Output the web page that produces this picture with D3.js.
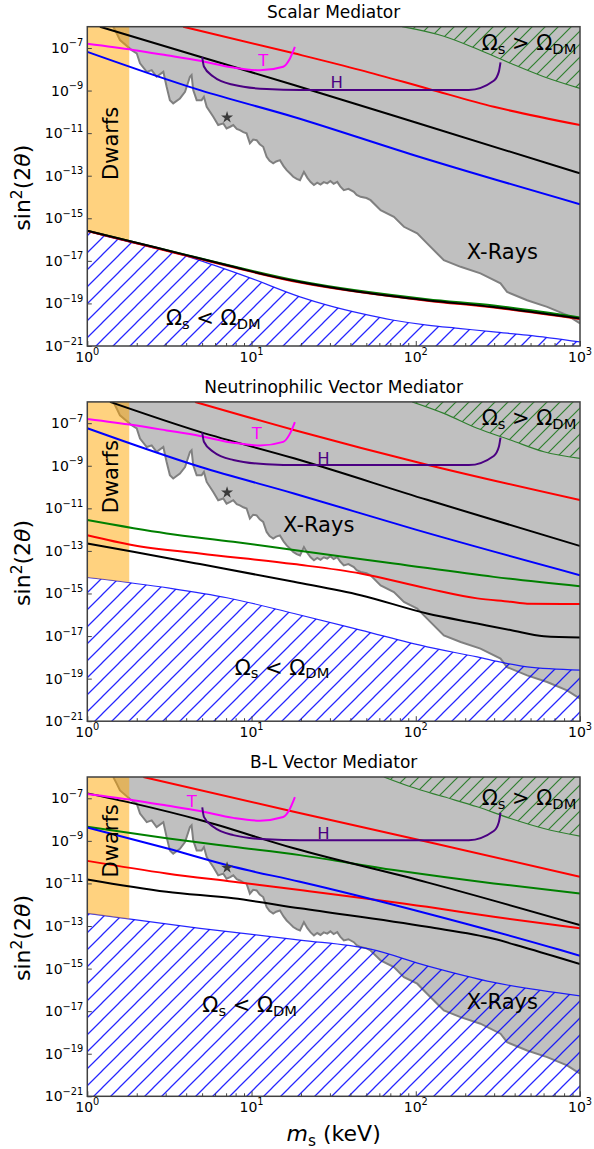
<!DOCTYPE html>
<html>
<head>
<meta charset="utf-8">
<script src="https://d3js.org/d3.v7.min.js"></script>
<style>
  body { margin: 0; background: #fff; }
  text { font-family: "DejaVu Sans", sans-serif; }
</style>
</head>
<body>
<div id="chart"></div>
<script>
// Data. Every point is [log10(m_s / keV), log10(sin^2(2 theta))]
// ==============================

// shared constraints (same in all three panels)
var xrayBound = [[0.158,-6.0],[0.179,-6.31],[0.199,-6.63],[0.270,-7.10],[0.301,-7.25],[0.321,-7.72],
  [0.362,-8.12],[0.392,-8.04],[0.422,-8.35],[0.463,-8.12],[0.483,-8.82],[0.503,-9.45],[0.523,-9.60],
  [0.564,-9.37],[0.595,-9.06],[0.625,-8.35],[0.635,-8.27],[0.645,-8.98],[0.666,-9.45],[0.696,-9.45],
  [0.710,-9.29],[0.727,-9.76],[0.767,-10.23],[0.797,-10.62],[0.828,-10.54],[0.848,-10.78],[0.870,-10.70],
  [0.889,-10.62],[0.910,-10.80],[0.929,-10.86],[0.950,-10.95],[0.970,-11.01],[0.990,-11.48],[1.010,-11.30],
  [1.031,-11.33],[1.050,-11.52],[1.071,-11.64],[1.092,-12.11],[1.110,-12.30],[1.132,-12.42],[1.150,-12.33],
  [1.173,-12.27],[1.195,-12.55],[1.214,-12.74],[1.235,-12.90],[1.254,-13.05],[1.275,-13.15],[1.295,-13.21],
  [1.319,-12.82],[1.340,-13.10],[1.360,-13.30],[1.380,-13.44],[1.400,-13.33],[1.420,-13.42],[1.440,-13.30],
  [1.461,-13.36],[1.480,-13.25],[1.500,-13.38],[1.522,-13.29],[1.540,-13.50],[1.562,-13.68],[1.590,-13.62],
  [1.623,-13.76],[1.640,-13.90],[1.664,-13.99],[1.700,-14.05],[1.725,-14.15],[1.786,-14.62],[1.867,-14.93],
  [1.928,-15.40],[2.009,-15.71],[2.069,-16.18],[2.171,-16.97],[2.273,-17.28],[2.394,-17.59],[2.516,-18.06],
  [2.556,-18.46],[2.678,-18.85],[2.800,-19.16],[2.921,-19.55],[3.0,-19.94]];
var tCurve = [[0,-6.80],[0.28,-7.09],[0.483,-7.34],[0.686,-7.60],[0.889,-7.92],[1.051,-8.05],
  [1.193,-7.88],[1.234,-7.49],[1.264,-6.95]];
var hCurve = [[0.700,-7.43],[0.710,-7.87],[0.767,-8.34],[0.889,-8.73],[1.092,-8.93],[1.295,-8.97],
  [2.323,-8.97],[2.475,-8.54],[2.506,-8.11],[2.516,-7.68]];
var lineStar = [0.851, -10.26];   // 7.1 keV line
var dwarfsMaxKeV = 1.8;

// Scalar mediator
var scalarOver = [[1.917,-6],[2.171,-6.45],[2.374,-7.05],[2.577,-7.72],[2.78,-8.35],[3,-8.90]];
var scalarUnder = [[0,-15.59],[0.169,-15.95],[0.382,-16.34],[0.584,-16.73],[0.788,-17.25],[0.990,-17.8],
  [1.295,-18.69],[1.461,-19.08],[1.664,-19.47],[1.867,-19.79],[2.069,-20.02],[2.273,-20.18],
  [2.475,-20.34],[2.678,-20.49],[3,-20.81]];
var scalarRed = [[0.584,-6],[1.258,-7.25],[1.664,-8.04],[2.069,-8.90],[2.475,-9.76],[3,-10.62]];
var scalarBlack = [[0.077,-6.0],[0.686,-7.41],[1.258,-8.74],[2.0,-10.5],[3,-12.89]];
var scalarBlue = [[0,-7.18],[0.686,-8.98],[1.258,-10.24],[2.0,-12.06],[3,-14.34]];
var scalarGreenLow = [[0,-15.59],[0.686,-16.88],[1.295,-17.96],[2.069,-18.80],[2.475,-19.10],[3,-19.66]];
var scalarRedLow = [[0,-15.60],[0.686,-16.92],[1.295,-18.02],[2.069,-18.87],[2.475,-19.19],[3,-19.73]];
var scalarBlackLow = [[0,-15.59],[0.28,-16.11],[0.483,-16.50],[0.686,-16.89],[0.889,-17.28],[1.092,-17.67],
  [1.295,-17.99],[1.664,-18.46],[2.069,-18.85],[2.475,-19.17],[2.678,-19.37],[3,-19.71]];

// Neutrinophilic vector mediator
var nuOver = [[1.978,-6],[2.171,-6.54],[2.374,-7.24],[2.577,-7.79],[2.78,-8.34],[3,-8.65]];
var nuUnder = [[0,-14.25],[0.5,-14.75],[0.85,-15.2],[1.258,-15.94],[1.664,-16.72],[2.069,-17.51],
  [2.374,-17.98],[2.536,-18.26],[2.678,-18.45],[3,-18.60]];
var nuRed = [[0.656,-6],[1.258,-7.32],[2.069,-8.95],[3,-10.61]];
var nuBlack = [[0.138,-6],[0.686,-7.41],[1.258,-8.65],[2.069,-10.6],[3,-12.77]];
var nuBlue = [[0,-7.24],[0.686,-9.05],[1.258,-10.30],[2.0,-12.0],[3,-14.14]];
var nuGreen = [[0,-11.55],[0.483,-12.18],[0.889,-12.57],[1.258,-12.96],[1.867,-13.59],[2.475,-14.22],[3,-14.66]];
var nuRedLow = [[0,-12.26],[0.28,-12.73],[0.686,-13.12],[1.258,-13.62],[1.664,-14.06],[2.069,-14.76],
  [2.374,-15.23],[2.577,-15.39],[2.678,-15.48],[3,-15.50]];
var nuBlackLow = [[0,-12.65],[0.28,-13.04],[0.686,-13.62],[1.258,-14.45],[1.664,-15.08],[2.069,-15.94],
  [2.374,-16.41],[2.577,-16.72],[2.78,-17.01],[3,-17.07]];

// B-L vector mediator
var blOver = [[1.806,-6],[1.968,-6.46],[2.171,-6.93],[2.374,-7.40],[2.577,-7.95],[2.78,-8.42],[3,-8.78]];
var blUnder = [[0,-12.41],[0.686,-13.11],[1.295,-13.66],[1.725,-14.09],[2.069,-14.87],[2.475,-15.65],[3,-16.28]];
var blRed = [[0.341,-6],[1.258,-7.63],[2.069,-9.04],[3,-10.69]];
var blBlack = [[0,-6.77],[0.28,-7.24],[0.686,-8.02],[1.258,-9.35],[2.069,-10.95],[3,-12.96]];
var blGreen = [[0,-8.34],[0.483,-8.88],[0.889,-9.28],[1.295,-9.67],[1.867,-10.37],[2.475,-11.00],[3,-11.47]];
var blBlue = [[0,-8.37],[0.483,-9.35],[0.889,-10.22],[1.295,-10.92],[2.069,-12.41],[2.881,-14.13],[3,-14.40]];
var blRedLow = [[0,-9.94],[0.483,-10.53],[0.889,-10.92],[1.295,-11.31],[2.069,-12.10],[2.475,-12.57],[3,-13.11]];
var blBlackLow = [[0,-10.81],[0.483,-11.39],[0.889,-11.70],[1.295,-12.17],[2.069,-13.04],[2.475,-13.6],
  [2.658,-14.0],[3,-14.79]];

// ticks
var xTicks = [1, 10, 100, 1000];
var xMinorTicks = [2,3,4,5,6,7,8,9,20,30,40,50,60,70,80,90,200,300,400,500,600,700,800,900];
var yTickExps = [-7, -9, -11, -13, -15, -17, -19, -21];
var panelTitles = ["Scalar Mediator", "Neutrinophilic Vector Mediator", "B-L Vector Mediator"];

// Layout
// ==============================
var svgWidth = 594, svgHeight = 1149;
var plotLeft = 87.3, plotRight = 580;
var plotHeight = 319.3;
var panelTops = [26.7, 401.9, 777];

// label positions, relative to the panel top
var labelPos = [
  { dwarfs: 116.6, xray: [502.4, 231.9], over: [529, 23.3], under: [213.3, 298.3], t: [263.3, 38.8], h: [336.8, 61.5] },
  { dwarfs: 74.8,  xray: [318.7, 130.1], over: [529, 23.1], under: [282, 273],     t: [256.7, 37.1], h: [323.5, 61.6] },
  { dwarfs: 63.8,  xray: [502.3, 232.3], over: [529, 28],   under: [249.7, 235.3], t: [191.7, 30],   h: [323.5, 62.3] }
];

var panels = [
  { over: scalarOver, under: scalarUnder, lines: [
      [scalarGreenLow, "#008000"], [scalarRedLow, "#ff0000"], [scalarBlackLow, "#000000"],
      [scalarRed, "#ff0000"], [scalarBlack, "#000000"], [scalarBlue, "#0000ff"]] },
  { over: nuOver, under: nuUnder, lines: [
      [nuGreen, "#008000"], [nuRedLow, "#ff0000"], [nuBlackLow, "#000000"],
      [nuRed, "#ff0000"], [nuBlack, "#000000"], [nuBlue, "#0000ff"]] },
  { over: blOver, under: blUnder, lines: [
      [blGreen, "#008000"], [blRedLow, "#ff0000"], [blBlackLow, "#000000"],
      [blRed, "#ff0000"], [blBlack, "#000000"], [blBlue, "#0000ff"]] }
];

var svg = d3.select("#chart").append("svg")
  .attr("width", svgWidth)
  .attr("height", svgHeight)
  .style("background", "#fff");

var defs = svg.append("defs");

// hatch patterns (matplotlib "/" style)
function addHatch(id, color, step, width) {
  defs.append("pattern")
    .attr("id", id)
    .attr("patternUnits", "userSpaceOnUse")
    .attr("width", step)
    .attr("height", step)
    .append("path")
    .attr("d", `M0,${step} L${step},0 M-2,2 L2,-2 M${step - 2},${step + 2} L${step + 2},${step - 2}`)
    .attr("stroke", color)
    .attr("stroke-width", width);
}
addHatch("hatchBlue", "rgba(0,0,255,0.85)", 17, 1.25);
addHatch("hatchGreen", "#2f7f2f", 13, 1.2);

function powLabel(sel, exp) {
  sel.append("tspan").text("10");
  sel.append("tspan")
    .attr("dy", -6.5)
    .attr("font-size", "0.7em")
    .text(exp < 0 ? "\u2212" + (-exp) : String(exp));
}

function omegaLabel(sel, rel) {
  sel.append("tspan").text("\u03A9");
  sel.append("tspan").attr("dy", 3.5).attr("font-size", "0.7em").text("s");
  sel.append("tspan").attr("dy", -3.5).text(" " + rel + " \u03A9");
  sel.append("tspan").attr("dy", 3.5).attr("font-size", "0.7em").text("DM");
}

// Build each panel
// ==============================
panels.forEach(function(p, i) {
  var top = panelTops[i];
  var bottom = top + plotHeight;
  var pos = labelPos[i];

  var xScale = d3.scaleLog().domain([1, 1000]).range([plotLeft, plotRight]);
  var yScale = d3.scaleLog().domain([1e-21, 1e-6]).range([bottom, top]);
  var px = d => xScale(Math.pow(10, d[0]));
  var py = d => yScale(Math.pow(10, d[1]));

  defs.append("clipPath").attr("id", "clip" + i)
    .append("rect")
    .attr("x", plotLeft).attr("y", top)
    .attr("width", plotRight - plotLeft).attr("height", plotHeight);

  // dwarfs band stops at the underabundance boundary
  defs.append("clipPath").attr("id", "dwarfClip" + i)
    .append("path")
    .attr("d", d3.area().x(px).y0(top).y1(py).curve(d3.curveMonotoneX)(p.under));

  var chartGroup = svg.append("g").attr("clip-path", `url(#clip${i})`);

  // X-ray excluded region
  var xrayLine = d3.line().x(px).y(py);
  chartGroup.append("path")
    .attr("d", xrayLine(xrayBound.concat([[3, -6]])) + "Z")
    .attr("fill", "#c0c0c0");
  chartGroup.append("path")
    .attr("d", xrayLine(xrayBound))
    .attr("fill", "none")
    .attr("stroke", "#808080")
    .attr("stroke-width", 2);

  // Omega_s > Omega_DM
  chartGroup.append("path")
    .attr("d", d3.area().x(px).y0(top).y1(py).curve(d3.curveMonotoneX)(p.over))
    .attr("fill", "url(#hatchGreen)");
  chartGroup.append("path")
    .attr("d", d3.line().x(px).y(py).curve(d3.curveMonotoneX)(p.over))
    .attr("fill", "none")
    .attr("stroke", "#2f7f2f")
    .attr("stroke-width", 1.2);

  // Omega_s < Omega_DM
  chartGroup.append("path")
    .attr("d", d3.area().x(px).y0(bottom).y1(py).curve(d3.curveMonotoneX)(p.under))
    .attr("fill", "url(#hatchBlue)");
  chartGroup.append("path")
    .attr("d", d3.line().x(px).y(py).curve(d3.curveMonotoneX)(p.under))
    .attr("fill", "none")
    .attr("stroke", "rgba(0,0,255,0.85)")
    .attr("stroke-width", 1.2);

  // Dwarfs
  chartGroup.append("g")
    .attr("clip-path", `url(#dwarfClip${i})`)
    .append("rect")
    .attr("x", xScale(1))
    .attr("y", top)
    .attr("width", xScale(dwarfsMaxKeV) - xScale(1))
    .attr("height", plotHeight)
    .attr("fill", "#ffa500")
    .attr("fill-opacity", 0.5);

  // model lines
  var curve = d3.line().x(px).y(py).curve(d3.curveMonotoneX);
  p.lines.forEach(function(l) {
    chartGroup.append("path")
      .attr("d", curve(l[0]))
      .attr("fill", "none")
      .attr("stroke", l[1])
      .attr("stroke-width", 2);
  });
  chartGroup.append("path")
    .attr("d", curve(tCurve))
    .attr("fill", "none").attr("stroke", "#ff00ff").attr("stroke-width", 2);
  chartGroup.append("path")
    .attr("d", curve(hCurve))
    .attr("fill", "none").attr("stroke", "#4b0082").attr("stroke-width", 2);

  chartGroup.append("path")
    .attr("d", d3.symbol(d3.symbolStar, 45)())
    .attr("transform", `translate(${px(lineStar)}, ${py(lineStar)})`)
    .attr("fill", "#3a3a3a");

  // Annotations
  svg.append("text")
    .attr("transform", `translate(118, ${top + pos.dwarfs}) rotate(-90)`)
    .attr("text-anchor", "middle")
    .attr("font-size", 21)
    .text("Dwarfs");

  svg.append("text")
    .attr("x", pos.xray[0]).attr("y", top + pos.xray[1])
    .attr("text-anchor", "middle")
    .attr("font-size", 21)
    .text("X-Rays");

  svg.append("text")
    .attr("x", pos.over[0]).attr("y", top + pos.over[1])
    .attr("text-anchor", "middle")
    .attr("font-size", 21)
    .call(omegaLabel, ">");

  svg.append("text")
    .attr("x", pos.under[0]).attr("y", top + pos.under[1])
    .attr("text-anchor", "middle")
    .attr("font-size", 21)
    .call(omegaLabel, "<");

  svg.append("text")
    .attr("x", pos.t[0]).attr("y", top + pos.t[1])
    .attr("text-anchor", "middle")
    .attr("font-size", 16.5)
    .attr("fill", "#ff00ff")
    .text("T");

  svg.append("text")
    .attr("x", pos.h[0]).attr("y", top + pos.h[1])
    .attr("text-anchor", "middle")
    .attr("font-size", 16.5)
    .attr("fill", "#4b0082")
    .text("H");

  // Axes
  var xAxis = d3.axisBottom(xScale).tickValues(xTicks).tickSize(-5).tickFormat("");
  var xMinor = d3.axisBottom(xScale).tickValues(xMinorTicks).tickSize(-3).tickFormat("");
  var yAxis = d3.axisLeft(yScale).tickValues(yTickExps.map(e => Math.pow(10, e))).tickSize(-4.5).tickFormat("");

  [xAxis, xMinor].forEach(function(ax) {
    svg.append("g")
      .attr("transform", `translate(0, ${bottom})`)
      .attr("color", "#444")
      .call(ax)
      .call(g => g.select(".domain").remove());
  });
  svg.append("g")
    .attr("transform", `translate(${plotLeft}, 0)`)
    .attr("color", "#444")
    .call(yAxis)
    .call(g => g.select(".domain").remove());

  xTicks.forEach(function(t) {
    svg.append("text")
      .attr("x", xScale(t))
      .attr("y", bottom + 15.5)
      .attr("text-anchor", "middle")
      .attr("font-size", 14)
      .call(powLabel, Math.round(Math.log10(t)));
  });
  yTickExps.forEach(function(e) {
    svg.append("text")
      .attr("x", plotLeft - 4)
      .attr("y", yScale(Math.pow(10, e)) + 5)
      .attr("text-anchor", "end")
      .attr("font-size", 14)
      .call(powLabel, e);
  });

  // frame
  svg.append("rect")
    .attr("x", plotLeft).attr("y", top)
    .attr("width", plotRight - plotLeft).attr("height", plotHeight)
    .attr("fill", "none")
    .attr("stroke", "#404040")
    .attr("stroke-width", 1.5);

  // title
  svg.append("text")
    .attr("x", (plotLeft + plotRight) / 2)
    .attr("y", top - 9)
    .attr("text-anchor", "middle")
    .attr("font-size", 17)
    .text(panelTitles[i]);

  // y label
  var yLabel = svg.append("text")
    .attr("transform", `translate(30, ${top + 161}) rotate(-90)`)
    .attr("text-anchor", "middle")
    .attr("font-size", 22);
  yLabel.append("tspan").text("sin");
  yLabel.append("tspan").attr("dy", -8).attr("font-size", "0.7em").text("2");
  yLabel.append("tspan").attr("dy", 8).text("(2");
  yLabel.append("tspan").attr("font-style", "italic").text("\u03B8");
  yLabel.append("tspan").text(")");
});

// x label
// ==============================
var xLabel = svg.append("text")
  .attr("x", (plotLeft + plotRight) / 2)
  .attr("y", 1141)
  .attr("text-anchor", "middle")
  .attr("font-size", 22);
xLabel.append("tspan").attr("font-style", "italic").text("m");
xLabel.append("tspan").attr("dy", 4.5).attr("font-size", "0.7em").text("s");
xLabel.append("tspan").attr("dy", -4.5).text(" (keV)");
</script>
</body>
</html>
